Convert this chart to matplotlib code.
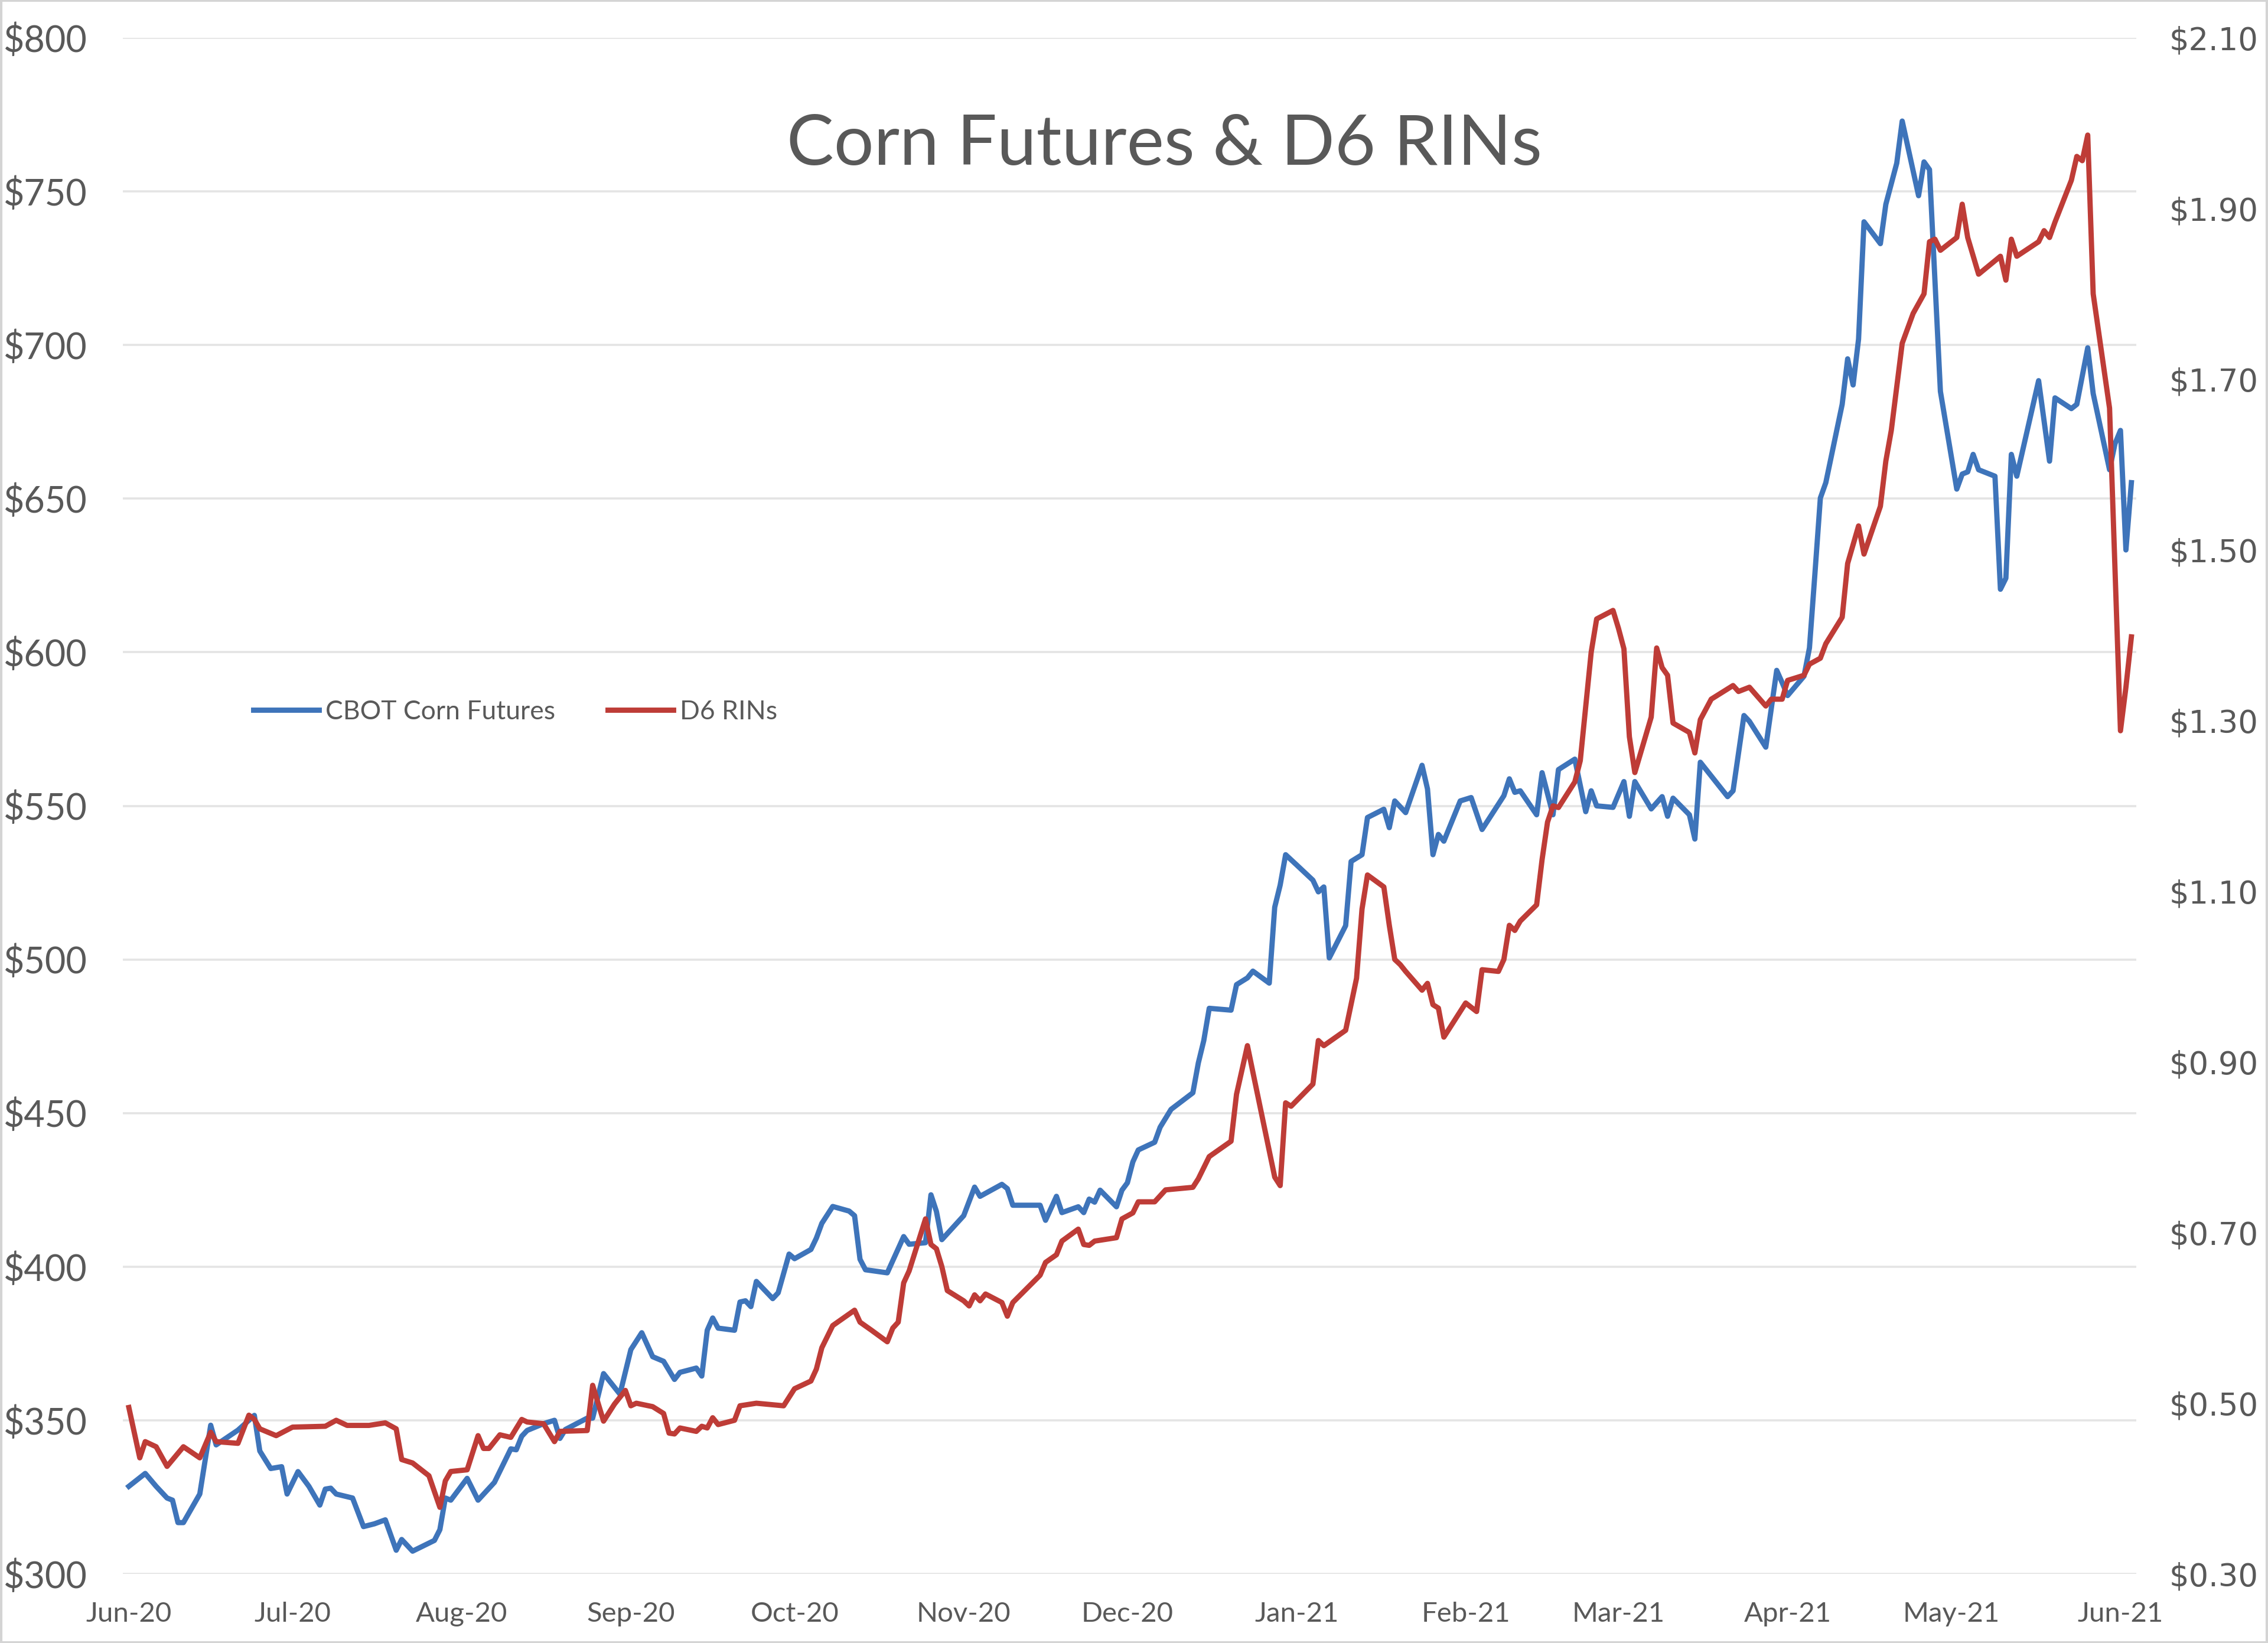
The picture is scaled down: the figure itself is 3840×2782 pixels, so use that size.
import numpy as np
import pandas as pd
import matplotlib
matplotlib.use("Agg")
import matplotlib.pyplot as plt
import matplotlib.dates as mdates
from matplotlib.patches import Rectangle
from matplotlib.ticker import FuncFormatter, FixedLocator

# days counted from 1 Jun 2020
corn_day = [0, 3, 5, 7, 8, 9, 10, 13, 15, 16, 20, 23, 24, 26, 28, 29, 31, 33, 35, 36,
            37, 38, 41, 43, 45, 47, 49, 50, 52, 56, 57, 58, 59, 62, 64, 67, 70, 71, 72, 73,
            76, 78, 79, 80, 84, 85, 87, 90, 92, 94, 96, 98, 100, 101, 104, 105, 106, 107, 108, 111,
            112, 113, 114, 115, 118, 119, 121, 122, 125, 126, 127, 129, 132, 133, 134, 135, 139, 142, 143, 146,
            147, 148, 149, 153, 155, 156, 160, 161, 162, 167, 168, 170, 171, 174, 175, 176, 177, 178, 181, 182,
            183, 184, 185, 188, 189, 191, 195, 196, 197, 198, 202, 203, 205, 206, 209, 210, 211, 212, 214, 217,
            218, 219, 220, 223, 224, 226, 227, 230, 231, 232, 234, 237, 238, 239, 240, 241, 244, 246, 248, 252,
            253, 254, 255, 258, 259, 261, 262, 265, 267, 268, 269, 272, 274, 275, 276, 279, 281, 282, 283, 286,
            287, 288, 293, 294, 296, 297, 300, 302, 303, 304, 307, 308, 309, 310, 311, 314, 315, 316, 317, 318,
            321, 322, 324, 325, 328, 329, 330, 332, 335, 336, 337, 338, 339, 342, 343, 344, 345, 346, 350, 352,
            353, 356, 357, 359, 360, 363, 364, 365, 366, 367]
corn_price = [328.5, 332.7, 328.5, 324.7, 324.0, 316.7, 316.7, 326.0, 348.4, 342.0, 346.8, 351.6, 340.0, 334.3, 334.9, 326.0, 333.3, 328.5, 322.4, 327.6,
              327.9, 326.0, 324.7, 315.4, 316.3, 317.6, 307.7, 311.2, 307.4, 310.9, 314.4, 324.7, 324.0, 331.1, 324.0, 329.8, 340.7, 340.4, 344.8, 346.7,
              348.9, 350.0, 344.1, 347.0, 350.7, 350.7, 365.2, 358.5, 373.0, 378.5, 370.7, 369.2, 363.3, 365.6, 367.0, 364.4, 379.3, 383.3, 380.0, 379.3,
              388.5, 388.9, 387.0, 395.2, 389.6, 391.5, 404.1, 402.6, 405.6, 409.3, 414.1, 419.6, 418.1, 416.6, 402.4, 399.0, 398.0, 409.8, 407.3, 407.8,
              423.4, 418.0, 408.8, 416.6, 425.9, 422.9, 426.8, 425.4, 420.0, 420.0, 415.1, 422.9, 417.6, 419.5, 417.6, 422.0, 421.0, 424.9, 419.5, 424.9,
              427.3, 434.1, 438.0, 440.5, 445.4, 451.2, 456.6, 466.3, 473.6, 484.1, 483.5, 491.8, 494.0, 496.2, 492.3, 517.0, 524.2, 534.1, 530.8, 525.8,
              522.0, 523.6, 500.5, 511.0, 531.9, 534.1, 546.2, 548.9, 542.9, 551.6, 547.8, 563.2, 555.5, 534.1, 540.7, 538.5, 551.6, 552.7, 542.3, 553.3,
              558.8, 554.4, 554.9, 547.1, 560.8, 547.1, 561.8, 565.2, 548.1, 554.9, 550.0, 549.5, 557.9, 546.6, 557.9, 549.0, 553.0, 546.6, 552.5, 547.1,
              539.2, 564.2, 553.0, 554.9, 579.4, 577.5, 569.1, 594.1, 590.1, 585.9, 592.2, 601.4, 625.5, 650.2, 655.2, 680.7, 695.5, 687.0, 701.9, 740.1,
              733.0, 745.8, 759.2, 772.9, 748.6, 759.6, 757.1, 684.9, 653.1, 658.0, 658.7, 664.4, 659.4, 657.3, 620.5, 624.1, 664.4, 657.3, 688.4, 662.2,
              682.8, 679.3, 680.7, 699.1, 684.2, 659.4, 667.9, 672.2, 633.3, 655.2]

rin_day = [0, 2, 3, 5, 7, 10, 13, 15, 16, 20, 22, 23, 24, 27, 30, 36, 38, 40, 44, 47,
           49, 50, 52, 55, 57, 58, 59, 62, 64, 65, 66, 68, 70, 72, 73, 76, 78, 79, 84, 85,
           87, 89, 91, 92, 93, 96, 98, 99, 100, 101, 104, 105, 106, 107, 108, 111, 112, 115, 120, 122,
           125, 126, 127, 129, 133, 134, 136, 139, 140, 141, 142, 143, 146, 147, 148, 149, 150, 153, 154, 155,
           156, 157, 160, 161, 162, 167, 168, 170, 171, 174, 175, 176, 177, 181, 182, 184, 185, 188, 190, 195,
           196, 198, 202, 203, 205, 206, 210, 211, 212, 213, 217, 218, 219, 223, 225, 226, 227, 230, 231, 232,
           233, 234, 237, 238, 239, 240, 241, 245, 247, 248, 251, 252, 253, 254, 255, 258, 259, 260, 261, 262,
           265, 266, 268, 269, 272, 273, 274, 275, 276, 279, 280, 281, 282, 283, 286, 287, 288, 290, 294, 295,
           297, 300, 301, 303, 304, 307, 308, 310, 311, 314, 315, 317, 318, 321, 322, 323, 325, 327, 329, 330,
           331, 332, 335, 336, 337, 339, 343, 344, 345, 346, 350, 351, 352, 353, 356, 357, 358, 359, 360, 363,
           365, 366, 367]
rin_price = [0.495, 0.436, 0.455, 0.449, 0.426, 0.449, 0.436, 0.466, 0.455, 0.453, 0.486, 0.481, 0.470, 0.462, 0.472, 0.473, 0.480, 0.474, 0.474, 0.477,
             0.470, 0.434, 0.430, 0.415, 0.378, 0.409, 0.420, 0.422, 0.462, 0.447, 0.447, 0.463, 0.460, 0.481, 0.478, 0.476, 0.455, 0.467, 0.468, 0.521,
             0.479, 0.499, 0.515, 0.497, 0.500, 0.496, 0.488, 0.465, 0.464, 0.471, 0.467, 0.473, 0.471, 0.483, 0.475, 0.480, 0.497, 0.500, 0.497, 0.517,
             0.526, 0.540, 0.565, 0.591, 0.609, 0.595, 0.586, 0.572, 0.588, 0.595, 0.641, 0.655, 0.716, 0.686, 0.681, 0.660, 0.632, 0.620, 0.614, 0.627,
             0.620, 0.628, 0.618, 0.602, 0.618, 0.650, 0.665, 0.674, 0.690, 0.704, 0.686, 0.685, 0.690, 0.694, 0.716, 0.723, 0.736, 0.736, 0.750, 0.753,
             0.763, 0.789, 0.807, 0.862, 0.919, 0.888, 0.765, 0.755, 0.852, 0.848, 0.874, 0.925, 0.919, 0.937, 0.998, 1.079, 1.119, 1.105, 1.060, 1.020,
             1.014, 1.006, 0.984, 0.992, 0.967, 0.963, 0.929, 0.969, 0.959, 1.008, 1.006, 1.020, 1.060, 1.054, 1.065, 1.084, 1.137, 1.181, 1.200, 1.198,
             1.228, 1.253, 1.380, 1.419, 1.429, 1.408, 1.384, 1.281, 1.239, 1.304, 1.385, 1.362, 1.353, 1.297, 1.286, 1.262, 1.301, 1.325, 1.341, 1.334,
             1.339, 1.317, 1.325, 1.325, 1.347, 1.353, 1.366, 1.373, 1.390, 1.421, 1.484, 1.528, 1.495, 1.551, 1.604, 1.640, 1.742, 1.777, 1.800, 1.861,
             1.864, 1.851, 1.866, 1.905, 1.866, 1.823, 1.844, 1.816, 1.864, 1.844, 1.861, 1.874, 1.866, 1.884, 1.933, 1.961, 1.956, 1.986, 1.800, 1.666,
             1.288, 1.339, 1.398]

title = "Corn Futures & D6 RINs"
corn_label = "CBOT Corn Futures"
rin_label = "D6 RINs"
left_ticks = list(range(300, 801, 50))
right_ticks = [0.30, 0.50, 0.70, 0.90, 1.10, 1.30, 1.50, 1.70, 1.90, 2.10]

start = pd.Timestamp("2020-06-01")
corn_dates = start + pd.to_timedelta(corn_day, unit="D")
rin_dates = start + pd.to_timedelta(rin_day, unit="D")
month_ticks = pd.date_range("2020-06-01", "2021-06-01", freq="MS")

BLUE = "#3E74BA"
RED = "#BE3C37"
GRID = "#E4E4E4"
TEXT = "#595959"

plt.rcParams["font.family"] = ["Lato", "DejaVu Sans"]

W, H, DPI = 3840, 2782, 200
fig = plt.figure(figsize=(W / DPI, H / DPI), dpi=DPI)

# axes box in pixel terms of the reference
x0, x1 = 208, 3617
y_top, y_bot = 64, 2665
ax = fig.add_axes([x0 / W, 1 - y_bot / H, (x1 - x0) / W, (y_bot - y_top) / H])
ax2 = ax.twinx()

ax.plot(corn_dates, corn_price, color=BLUE, lw=3.2, solid_joinstyle="round", label=corn_label)
ax2.plot(rin_dates, rin_price, color=RED, lw=3.2, solid_joinstyle="round", label=rin_label)

ax.set_ylim(300, 800)
ax2.set_ylim(0.30, 2.10)
ax.set_yticks(left_ticks)
ax2.yaxis.set_major_locator(FixedLocator(right_ticks))
ax.yaxis.set_major_formatter(FuncFormatter(lambda v, p: f"${v:,.0f}"))
ax2.yaxis.set_major_formatter(FuncFormatter(lambda v, p: f"${v:.2f}"))

xl = mdates.date2num(start)
ax.set_xlim(xl - 1.1, xl + 367.9)
ax.set_xticks(month_ticks)
ax.xaxis.set_major_formatter(mdates.DateFormatter("%b-%y"))

ax.grid(axis="y", color=GRID, lw=1.3)
ax.set_axisbelow(True)
for a in (ax, ax2):
    for s in a.spines.values():
        s.set_visible(False)

ax.tick_params(axis="y", length=0, pad=22, labelsize=22, labelcolor=TEXT)
ax.tick_params(axis="x", length=0, pad=17, labelsize=17, labelcolor=TEXT)
ax2.tick_params(axis="y", length=0, pad=20, labelsize=19, labelcolor=TEXT)
for lab in ax2.get_yticklabels():
    lab.set_fontfamily("DejaVu Sans")

fig.text(1971 / W, 1 - 246 / H, title, ha="center", va="center",
         fontsize=43, color=TEXT)

h1, l1 = ax.get_legend_handles_labels()
h2, l2 = ax2.get_legend_handles_labels()
leg = fig.legend(h1 + h2, l1 + l2, loc="center left",
                 bbox_to_anchor=(429 / W, 1 - 1205 / H), ncol=2, frameon=False,
                 fontsize=16, handlelength=2.5, handletextpad=0.25,
                 columnspacing=2.0, borderpad=0, borderaxespad=0)
for t in leg.get_texts():
    t.set_color(TEXT)

fig.patches.append(Rectangle((0.0005, 0.0005), 0.999, 0.999, transform=fig.transFigure,
                             fill=False, edgecolor="#D4D4D4", lw=1.5))

fig.savefig("out.png", dpi=DPI, facecolor="white")
